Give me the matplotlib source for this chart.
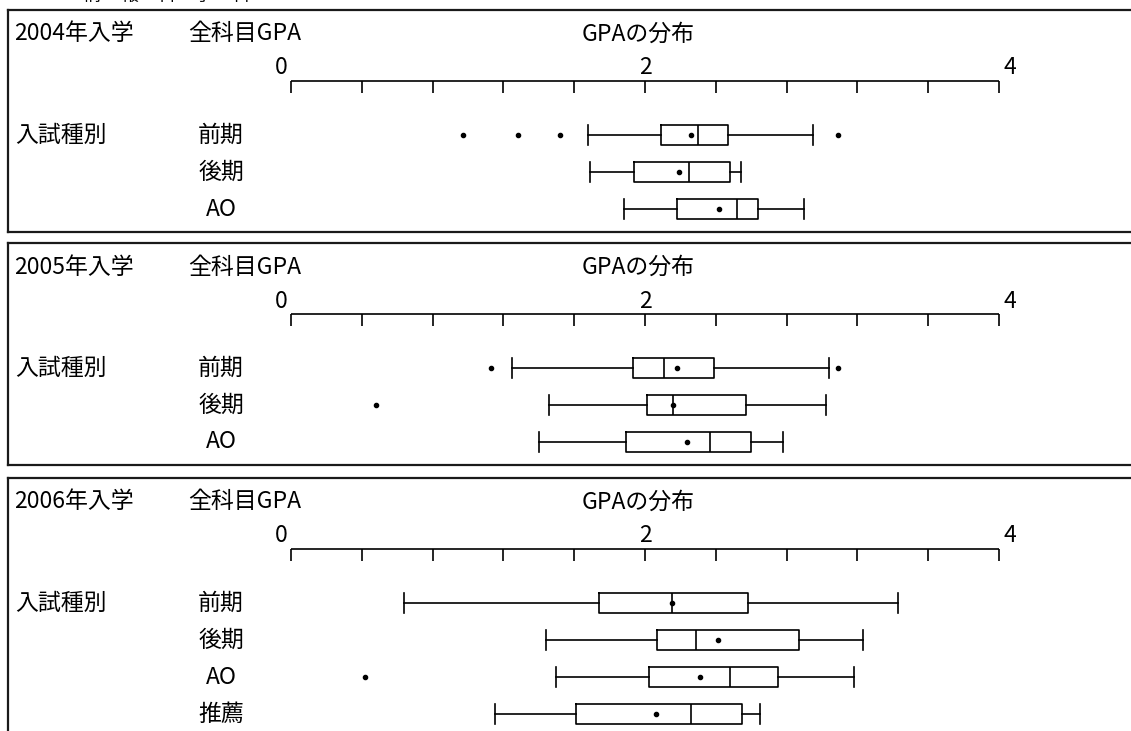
import matplotlib
matplotlib.use('Agg')
import matplotlib.pyplot as plt
import numpy as np

plt.rcParams['font.family'] = ['Noto Sans CJK JP', 'DejaVu Sans']

# GPA box-plot summaries per entry year
years = ['2004', '2005', '2006']

cats_2004 = ['前期', '後期', 'AO']
whislo_2004 = [1.68, 1.69, 1.88]
q1_2004 = [2.09, 1.94, 2.18]
med_2004 = [2.30, 2.25, 2.52]
q3_2004 = [2.47, 2.48, 2.64]
whishi_2004 = [2.95, 2.54, 2.90]
mean_2004 = [2.26, 2.19, 2.42]
fliers_2004 = [[0.97, 1.28, 1.52, 3.09], [], []]

cats_2005 = ['前期', '後期', 'AO']
whislo_2005 = [1.25, 1.46, 1.40]
q1_2005 = [1.93, 2.01, 1.89]
med_2005 = [2.11, 2.16, 2.37]
q3_2005 = [2.39, 2.57, 2.60]
whishi_2005 = [3.04, 3.02, 2.78]
mean_2005 = [2.18, 2.16, 2.24]
fliers_2005 = [[1.13, 3.09], [0.48], []]

cats_2006 = ['前期', '後期', 'AO', '推薦']
whislo_2006 = [0.64, 1.44, 1.50, 1.15]
q1_2006 = [1.74, 2.07, 2.02, 1.61]
med_2006 = [2.15, 2.29, 2.48, 2.26]
q3_2006 = [2.58, 2.87, 2.75, 2.55]
whishi_2006 = [3.43, 3.23, 3.18, 2.65]
mean_2006 = [2.15, 2.41, 2.31, 2.06]
fliers_2006 = [[], [], [0.42], []]

tick_labels = ['0', '2', '4']
x_min, x_max, x_step = 0, 4, 0.4

panels = [
    (years[0], cats_2004, whislo_2004, q1_2004, med_2004, q3_2004, whishi_2004, mean_2004, fliers_2004),
    (years[1], cats_2005, whislo_2005, q1_2005, med_2005, q3_2005, whishi_2005, mean_2005, fliers_2005),
    (years[2], cats_2006, whislo_2006, q1_2006, med_2006, q3_2006, whishi_2006, mean_2006, fliers_2006),
]

# layout in pixels
W, H = 1131, 731
panel_tops = [10, 243, 478]
panel_heights = [222, 222, 300]
panel_left, panel_right = 8, 1140
x0_px, x4_px = 291, 999
scale = (x4_px - x0_px) / (x_max - x_min)


def px2x(px):
    return (px - x0_px) / scale + x_min


fig = plt.figure(figsize=(W / 100, H / 100), dpi=100)
fig.patch.set_facecolor('white')

# heading cut off at the very top, as in the source page
fig.text(83 / W, 1 - 5 / H, '情　報　科　学　科', fontsize=13.4, ha='left', va='bottom')

fs = 16.5
for (year, cats, wlo, q1, med, q3, whi, mean, fl), top, h in zip(panels, panel_tops, panel_heights):
    ax = fig.add_axes([panel_left / W, 1 - (top + h) / H,
                       (panel_right - panel_left) / W, h / H])
    ax.set_xticks([])
    ax.set_yticks([])
    for s in ax.spines.values():
        s.set_linewidth(1.6)
        s.set_color('#1a1a1a')

    # headings
    ax.text(px2x(14), 24, year + '年入学', fontsize=fs, ha='left', va='center')
    ax.text(px2x(188), 24, '全科目GPA', fontsize=fs, ha='left', va='center')
    ax.text(px2x(582), 24, 'GPAの分布', fontsize=fs, ha='left', va='center')

    # axis scale
    axis_y, tick_len = 71, 12
    ticks = np.arange(x_min, x_max + x_step / 2, x_step)
    ax.hlines(axis_y, x_min, x_max, color='black', lw=1.2)
    ax.vlines(ticks, axis_y, axis_y + tick_len, color='black', lw=1.2)
    ax.text(px2x(288), 58, tick_labels[0], fontsize=fs, ha='right', va='center')
    ax.text((x_min + x_max) / 2, 58, tick_labels[1], fontsize=fs, ha='center', va='center')
    ax.text(px2x(1004), 58, tick_labels[2], fontsize=fs, ha='left', va='center')

    # boxes
    rows = [125 + 37 * i for i in range(len(cats))]
    stats = []
    for i in range(len(cats)):
        stats.append(dict(whislo=wlo[i], q1=q1[i], med=med[i], q3=q3[i],
                          whishi=whi[i], mean=mean[i], fliers=fl[i]))
    lp = dict(color='black', linewidth=1.2)
    dot = dict(marker='o', markersize=3, markerfacecolor='black',
               markeredgecolor='black')
    ax.bxp(stats, positions=rows, widths=20, capwidths=20,
           orientation='horizontal', showmeans=True, manage_ticks=False,
           boxprops=lp, whiskerprops=lp, capprops=lp, medianprops=lp,
           meanprops=dot, flierprops=dot)
    ax.set_xlim(px2x(panel_left), px2x(panel_right))
    ax.set_ylim(h, 0)

    ax.text(px2x(15), rows[0], '入試種別', fontsize=fs, ha='left', va='center')
    for r, c in zip(rows, cats):
        ax.text(px2x(221), r, c, fontsize=fs, ha='center', va='center')

fig.savefig('out.png', dpi=100)
